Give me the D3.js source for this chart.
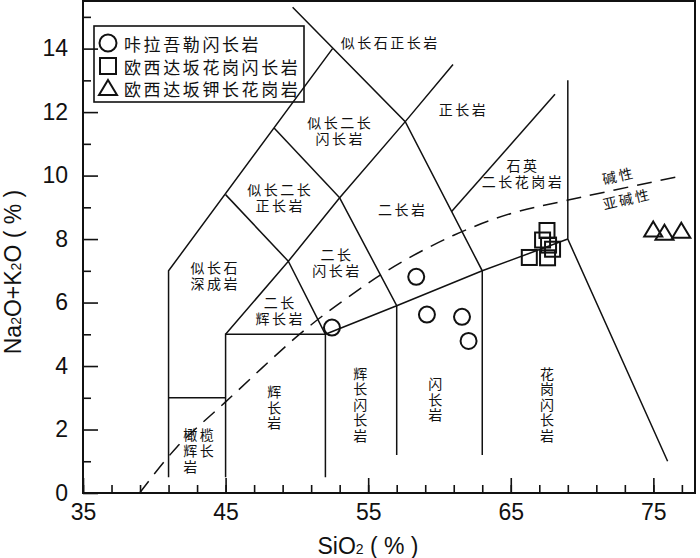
<!DOCTYPE html>
<html>
<head>
<meta charset="utf-8">
<script src="https://cdn.jsdelivr.net/npm/d3@7"></script>
<style>
body { margin: 0; background: #fff; }
svg { display: block; }
.tick text { font-family: "Liberation Sans", Arial, sans-serif; font-size: 23px; fill: #111; }
.tick line { stroke: #111; stroke-width: 1.6; }
.field { fill: none; stroke: #111; stroke-width: 1.5; }
.zh { font-family: "Noto Sans CJK SC", sans-serif; fill: #111; }
.mark { fill: none; stroke: #111; stroke-width: 2; }
.title { font-family: "Liberation Sans", Arial, sans-serif; font-size: 23px; fill: #111; }
.vert { writing-mode: vertical-rl; text-orientation: upright; }
</style>
</head>
<body>
<svg id="tas" width="700" height="558"></svg>
<script>
const xMajor = [35, 45, 55, 65, 75];
const yMajor = [0, 2, 4, 6, 8, 10, 12, 14];

// field boundaries (SiO2, Na2O+K2O)
const fieldLines = [
    [[41, 0.5], [41, 7], [52.5, 14]],
    [[41, 3], [45, 3]],
    [[45, 0.5], [45, 5], [52, 5], [52, 0.5]],
    [[45, 5], [49.4, 7.3], [52, 5]],
    [[52, 5], [57, 5.9], [63, 7], [69, 8]],
    [[57, 1.2], [57, 5.9], [53, 9.3]],
    [[63, 1.2], [63, 7], [57.6, 11.7], [49.7, 15.3]],
    [[45, 9.4], [49.4, 7.3]],
    [[48.4, 11.5], [53, 9.3]],
    [[49.4, 7.3], [53, 9.3], [57.6, 11.7], [60.95, 13.5]],
    [[60.85, 8.87], [68.1, 12.56]],
    [[69, 13], [69, 8], [76, 1]]
];

// alkaline / subalkaline divide
const divide = [[38.97, 0], [41.59, 1.45], [45, 2.87], [50.24, 5.02], [53.56, 6.16],
    [56.83, 7.14], [61, 8.12], [64.97, 8.8], [68.94, 9.22], [76.65, 9.96]];

const kalawule = [[52.46, 5.21], [58.37, 6.81], [59.12, 5.62], [61.58, 5.55], [62.04, 4.79]];
const granodiorite = [[67.54, 8.27], [67.23, 7.97], [67.93, 7.68], [67.65, 7.81], [66.30, 7.42], [67.58, 7.41]];
const kGranite = [[74.99, 8.30], [75.78, 8.20], [76.96, 8.26]];

const legendNames = ['咔拉吾勒闪长岩', '欧西达坂花岗闪长岩', '欧西达坂钾长花岗岩'];

// rock names: [lines, x, y of first line]
const fieldNames = [
    [['似长石正长岩'], 56.55, 14.21],
    [['正长岩'], 61.69, 12.11],
    [['石英', '二长花岗岩'], 65.85, 10.33],
    [['二长岩'], 57.43, 8.95],
    [['似长二长', '闪长岩'], 53.04, 11.69],
    [['似长二长', '正长岩'], 48.84, 9.57],
    [['二长', '闪长岩'], 52.81, 7.54],
    [['似长石', '深成岩'], 44.28, 7.12],
    [['二长', '辉长岩'], 48.84, 6.02]
];
const olivineGabbro = [['橄榄', '辉长', '岩'], 42.03, 1.85];
const verticalNames = [
    ['辉长岩', 48.42, 3.19],
    ['辉长闪长岩', 54.45, 3.76],
    ['闪长岩', 59.71, 3.43],
    ['花岗闪长岩', 67.54, 3.76]
];

const svg = d3.select('#tas');
const plotLeft = 83, plotTop = 1, plotRight = 695, plotBottom = 493;

const x = d3.scaleLinear().domain([35, 77.92]).range([plotLeft, plotRight]);
const y = d3.scaleLinear().domain([0, 15.5]).range([plotBottom, plotTop]);

const line = d3.line().x(d => x(d[0])).y(d => y(d[1]));
const curve = d3.line().x(d => x(d[0])).y(d => y(d[1])).curve(d3.curveCatmullRom);

// FIELDS
svg.append('g').selectAll('path')
    .data(fieldLines)
    .enter()
    .append('path')
    .attr('class', 'field')
    .attr('d', line);

svg.append('path')
    .datum(divide)
    .attr('class', 'field')
    .attr('stroke-dasharray', '15,9')
    .attr('d', curve);

// AXES
const xAxis = svg.append('g').attr('transform', `translate(0,${plotBottom})`);
xAxis.append('g').call(d3.axisBottom(x).tickValues(d3.range(35, 78, 2)).tickSize(-8).tickFormat(''));
xAxis.append('g').call(d3.axisBottom(x).tickValues(xMajor).tickSize(-15).tickPadding(11));
const yAxis = svg.append('g').attr('transform', `translate(${plotLeft},0)`);
yAxis.append('g').call(d3.axisLeft(y).tickValues(d3.range(1, 16, 2)).tickSize(-8).tickFormat(''));
yAxis.append('g').call(d3.axisLeft(y).tickValues(yMajor).tickSize(-15).tickPadding(15));
svg.selectAll('.domain').remove();

svg.append('rect')
    .attr('x', plotLeft).attr('y', plotTop)
    .attr('width', plotRight - plotLeft).attr('height', plotBottom - plotTop)
    .attr('fill', 'none').attr('stroke', '#111').attr('stroke-width', 2);

// TITLES
const xt = svg.append('text').attr('class', 'title')
    .attr('x', 368).attr('y', 554).attr('text-anchor', 'middle');
xt.append('tspan').text('SiO');
xt.append('tspan').attr('font-size', 14).text('2');
xt.append('tspan').text(' ( % )');

const yt = svg.append('text').attr('class', 'title')
    .attr('transform', 'translate(21,272) rotate(-90)').attr('text-anchor', 'middle');
yt.append('tspan').text('Na');
yt.append('tspan').attr('font-size', 14).text('2');
yt.append('tspan').text('O+K');
yt.append('tspan').attr('font-size', 14).text('2');
yt.append('tspan').text('O ( % )');

// FIELD NAMES
const names = svg.append('g').attr('class', 'zh')
    .attr('font-size', 14).attr('letter-spacing', 2.5);

function stacked (rows, px, py, step, anchor) {
    const t = names.append('text')
        .attr('text-anchor', anchor)
        .attr('dominant-baseline', 'central');
    rows.forEach((r, i) => {
        t.append('tspan')
            .attr('x', px)
            .attr('y', py + i * step)
            .text(r);
    });
}

fieldNames.forEach(([rows, cx, cy]) => stacked(rows, x(cx), y(cy), 16, 'middle'));
stacked(olivineGabbro[0], x(olivineGabbro[1]), y(olivineGabbro[2]), 16, 'start');

// upright columns
verticalNames.forEach(([t, cx, cy]) => {
    names.append('text')
        .attr('class', 'vert')
        .attr('letter-spacing', 1.5)
        .attr('x', x(cx))
        .attr('y', y(cy) - 7)
        .text(t);
});

names.append('text')
    .attr('transform', `translate(${x(72.56)},${y(10.01)}) rotate(-13)`)
    .attr('text-anchor', 'middle').attr('dominant-baseline', 'central')
    .text('碱性');
names.append('text')
    .attr('transform', `translate(${x(73.15)},${y(9.28)}) rotate(-13)`)
    .attr('text-anchor', 'middle').attr('dominant-baseline', 'central')
    .text('亚碱性');

// DATA POINTS
const tri = (cx, cy) => `M${cx},${cy - 8}L${cx + 9},${cy + 7}L${cx - 9},${cy + 7}Z`;

svg.append('g').selectAll('circle')
    .data(kalawule)
    .enter()
    .append('circle')
    .attr('class', 'mark')
    .attr('r', 8)
    .attr('cx', d => x(d[0]))
    .attr('cy', d => y(d[1]));

svg.append('g').selectAll('rect')
    .data(granodiorite)
    .enter()
    .append('rect')
    .attr('class', 'mark')
    .attr('width', 15).attr('height', 15)
    .attr('x', d => x(d[0]) - 7.5)
    .attr('y', d => y(d[1]) - 7.5);

svg.append('g').selectAll('path')
    .data(kGranite)
    .enter()
    .append('path')
    .attr('class', 'mark')
    .attr('d', d => tri(x(d[0]), y(d[1])));

// LEGEND
const legend = svg.append('g');
legend.append('rect')
    .attr('x', 94).attr('y', 26).attr('width', 210).attr('height', 76)
    .attr('fill', 'none').attr('stroke', '#111').attr('stroke-width', 1.6);
const rowY = [43, 66, 88];
legend.append('circle').attr('class', 'mark').attr('cx', 108).attr('cy', rowY[0]).attr('r', 8.5);
legend.append('rect').attr('class', 'mark').attr('x', 100).attr('y', rowY[1] - 8).attr('width', 16).attr('height', 16);
legend.append('path').attr('class', 'mark').attr('d', tri(108, rowY[2]));
legend.selectAll('text')
    .data(legendNames)
    .enter()
    .append('text')
    .attr('class', 'zh')
    .attr('font-size', 17)
    .attr('letter-spacing', 2.6)
    .attr('x', 124)
    .attr('y', (d, i) => rowY[i])
    .attr('dominant-baseline', 'central')
    .text(d => d);
</script>
</body>
</html>
